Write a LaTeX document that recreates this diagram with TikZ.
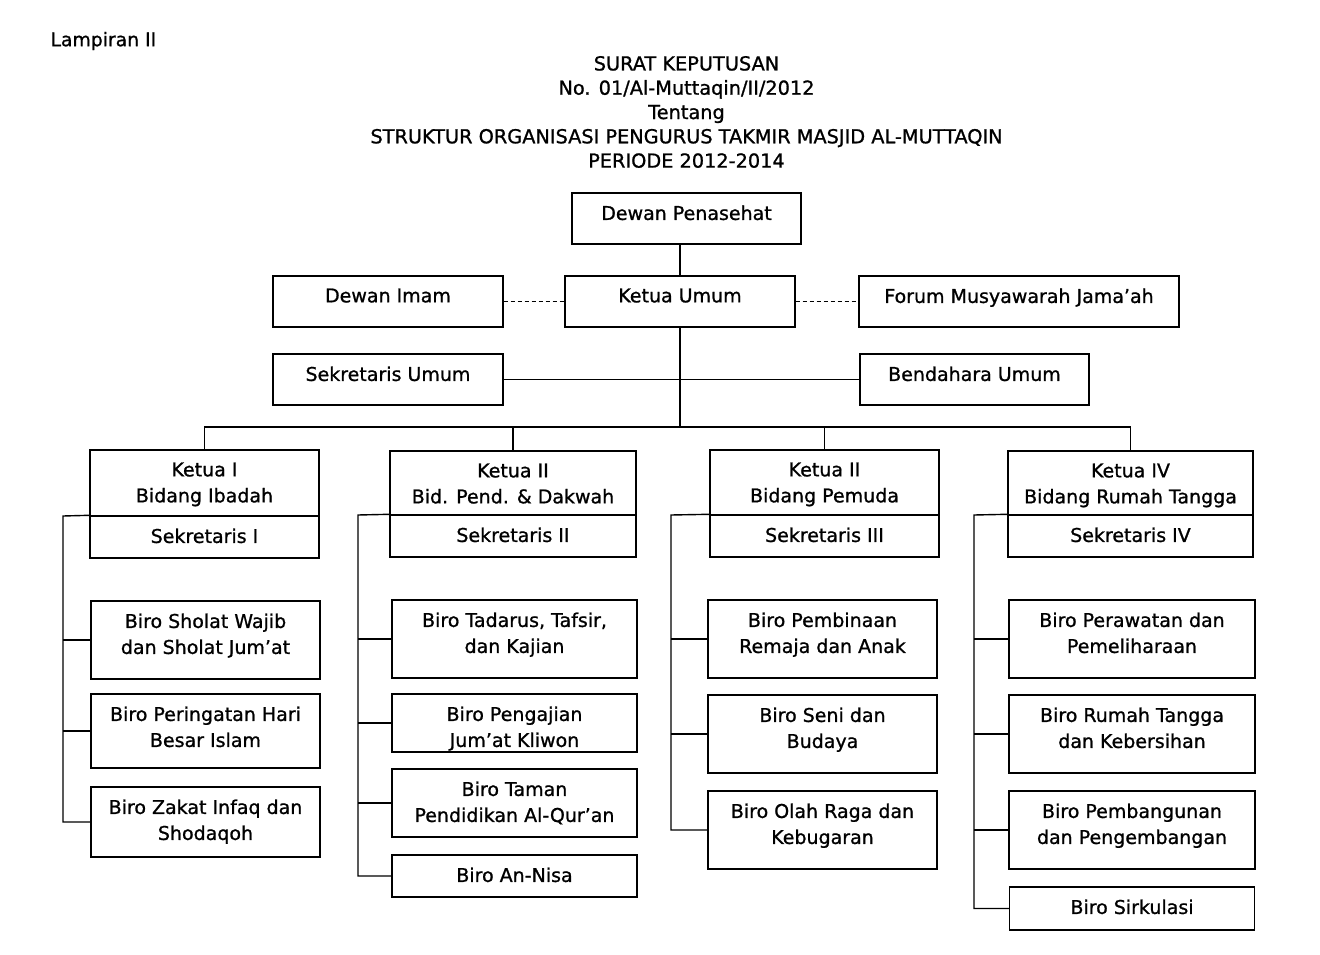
\documentclass[tikz,border=0pt]{standalone}
\usepackage{fontspec}
\setmainfont{DejaVu Sans}[FakeBold=1]
\usepackage{tikz}
\usetikzlibrary{positioning,calc}
\tikzset{
  kotak/.style={draw=black, line width=1.4pt, inner sep=0pt},
  teks/.style={anchor=north, align=center, inner xsep=0pt, inner ysep=13pt,
      font=\fontsize{19}{26}\selectfont},
  garis/.style={black, line width=1.4pt},
  putus/.style={black, line width=1pt, dash pattern=on 4pt off 3pt},
  judul/.style={align=center, font=\fontsize{19.3}{24.3}\selectfont},
}

\begin{document}
\begin{tikzpicture}[x=1pt,y=-1pt]
  \useasboundingbox (0,0) rectangle (1320,955);
  \node[anchor=west, font=\fontsize{18.8}{22}\selectfont] (lamp) at (47,41) {Lampiran II};
  \node[judul] (judul) at (686.5,112) {SURAT KEPUTUSAN\\No. 01/Al-Muttaqin/II/2012\\Tentang\\
      STRUKTUR ORGANISASI PENGURUS TAKMIR MASJID AL-MUTTAQIN\\PERIODE 2012-2014};

  \foreach \nm/\cx/\cy/\w/\h/\txt in {
      pena/686.5/218.5/229/51/{Dewan Penasehat},
      imam/388/301.5/230/51/{Dewan Imam},
      ketum/680/301.5/230/51/{Ketua Umum},
      forum/1019/301.5/320/51/{Forum Musyawarah Jama’ah},
      sekum/388/379.5/230/51/{Sekretaris Umum},
      bendum/974.5/379.5/229/51/{Bendahara Umum},
      k1/204.5/483/229/66/{Ketua I\\Bidang Ibadah},
      s1/204.5/537/229/42/{Sekretaris I},
      k2/513/483/246/64/{Ketua II\\Bid. Pend. \& Dakwah},
      s2/513/536/246/42/{Sekretaris II},
      k3/824.5/482.5/229/65/{Ketua II\\Bidang Pemuda},
      s3/824.5/536/229/42/{Sekretaris III},
      k4/1130.5/483/245/64/{Ketua IV\\Bidang Rumah Tangga},
      s4/1130.5/536/245/42/{Sekretaris IV},
      b11/205.5/640/229/78/{Biro Sholat Wajib\\dan Sholat Jum’at},
      b12/205.5/731/229/74/{Biro Peringatan Hari\\Besar Islam},
      b13/205.5/822/229/70/{Biro Zakat Infaq dan\\Shodaqoh},
      b21/514.5/639/245/78/{Biro Tadarus, Tafsir,\\dan Kajian},
      b22/514.5/723/245/58/{Biro Pengajian\\Jum’at Kliwon},
      b23/514.5/803/245/68/{Biro Taman\\Pendidikan Al-Qur’an},
      b24/514.5/876/245/42/{Biro An-Nisa},
      b31/822.5/639/229/78/{Biro Pembinaan\\Remaja dan Anak},
      b32/822.5/734/229/78/{Biro Seni dan\\Budaya},
      b33/822.5/830/229/78/{Biro Olah Raga dan\\Kebugaran},
      b41/1132/639/246/78/{Biro Perawatan dan\\Pemeliharaan},
      b42/1132/734/246/78/{Biro Rumah Tangga\\dan Kebersihan},
      b43/1132/830/246/78/{Biro Pembangunan\\dan Pengembangan},
      b44/1132/908.5/245/43/{Biro Sirkulasi}}{
    \node[kotak, minimum width=\w pt, minimum height=\h pt] (\nm) at (\cx,\cy) {};
    \node[teks] (\nm-t) at (\nm.north) {\txt};
  }

  \coordinate (bus) at (680,427);
  \draw[garis] (ketum.north) -- (ketum.north |- pena.south);
  \draw[putus] (imam.east) -- (ketum.west);
  \draw[putus] (ketum.east) -- (forum.west);
  \draw[garis] (ketum.south) -- (bus);
  \draw[garis] (sekum.east) -- (bendum.west);
  \draw[garis] (k1.north) -- (k1.north |- bus) -- (k4.north |- bus) -- (k4.north);
  \draw[garis] (k2.north) -- (k2.north |- bus);
  \draw[garis] (k3.north) -- (k3.north |- bus);

  \coordinate (sp1) at (63,516);
  \coordinate (sp2) at (358,515);
  \coordinate (sp3) at (671,515);
  \coordinate (sp4) at (974,515);
  \draw[garis] (s1.north west) -- (sp1) |- (b13.west);
  \draw[garis] (s2.north west) -- (sp2) |- (b24.west);
  \draw[garis] (s3.north west) -- (sp3) |- (b33.west);
  \draw[garis] (s4.north west) -- (sp4) |- (b44.west);
  \foreach \b/\sp in {b11/sp1,b12/sp1,b21/sp2,b22/sp2,b23/sp2,b31/sp3,b32/sp3,b41/sp4,b42/sp4,b43/sp4}
    \draw[garis] (\b.west) -- (\b.west -| \sp);
\end{tikzpicture}
\end{document}
